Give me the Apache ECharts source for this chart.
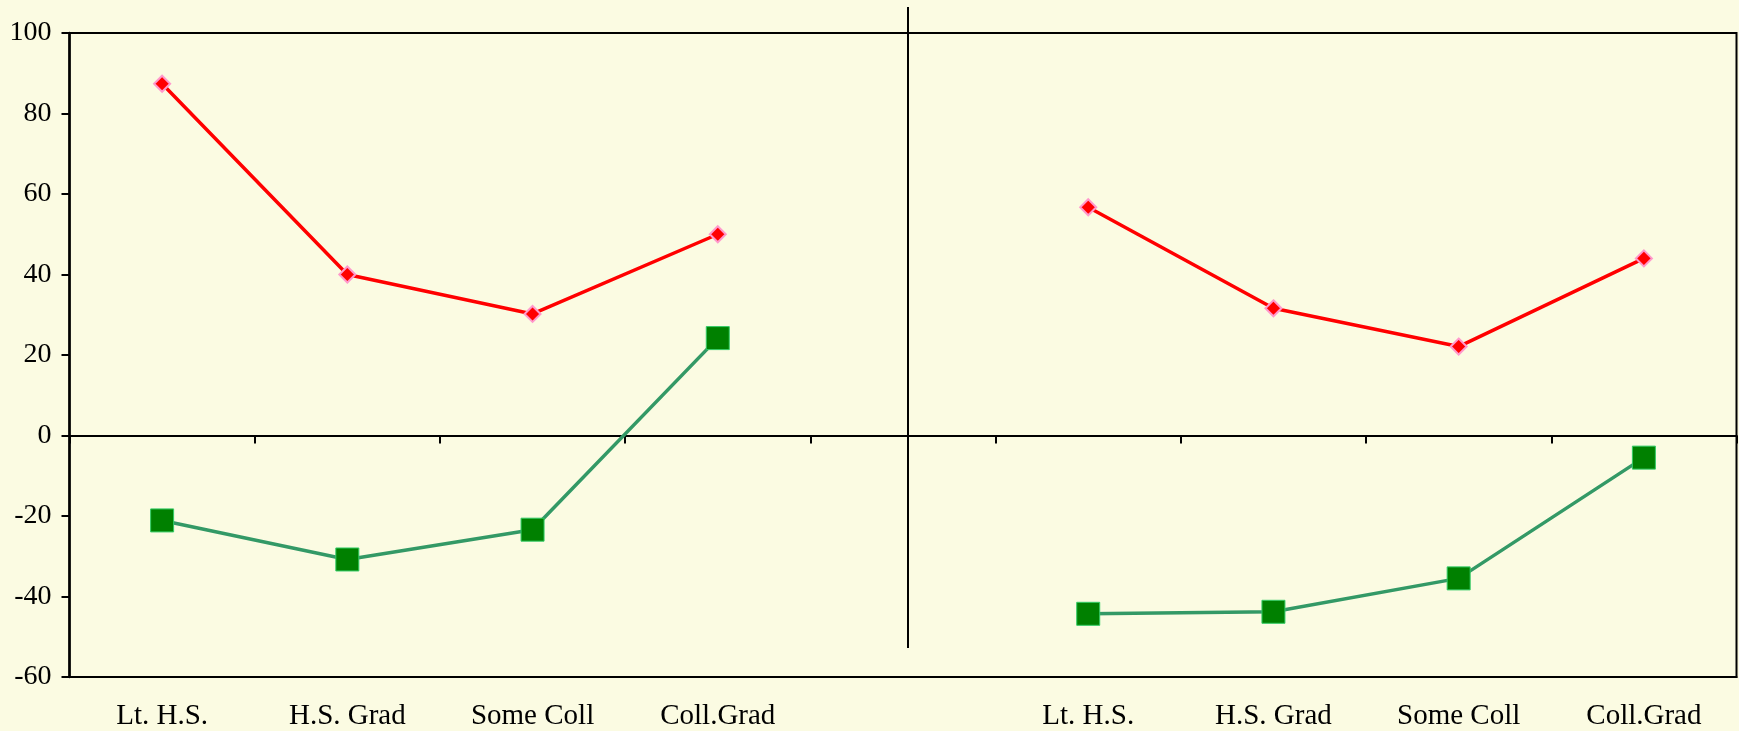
<!DOCTYPE html>
<html>
<head>
<meta charset="utf-8">
<script src="https://cdn.jsdelivr.net/npm/echarts@6/dist/echarts.min.js"></script>
<style>
html,body{margin:0;padding:0;background:#FBFBE2;}
#c{width:1739px;height:731px;}
</style>
</head>
<body>
<div id="c"></div>
<script>
// Data
const groupCategories = ['Lt. H.S.', 'H.S. Grad', 'Some Coll', 'Coll.Grad'];
const leftRed   = [87.4, 40.0, 30.2, 50.0];
const rightRed  = [56.7, 31.6, 22.1, 44.0];
const leftGreen = [-21.1, -30.8, -23.4, 24.2];
const rightGreen= [-44.3, -43.8, -35.5, -5.5];
const yTicks = {min: -60, max: 100, interval: 20};

const categories = groupCategories.concat([''], groupCategories);
const redData = leftRed.concat(['-'], rightRed);
const greenData = leftGreen.concat(['-'], rightGreen);

const FONT = '"Liberation Serif", "Times New Roman", serif';
const chart = echarts.init(document.getElementById('c'), null, {renderer: 'canvas'});
chart.setOption({
  animation: false,
  backgroundColor: '#FBFBE2',
  grid: {left: 69.5, right: 2.5, top: 33, bottom: 53.5, show: true,
         borderColor: '#000', borderWidth: 2, backgroundColor: 'transparent'},
  xAxis: [
    {type: 'category', data: categories, position: 'bottom', boundaryGap: true,
     axisLine: {onZero: false, lineStyle: {color: '#000', width: 2}},
     axisTick: {show: false},
     axisLabel: {color: '#000', fontFamily: FONT, fontSize: 29, margin: 25, interval: 0}},
    {type: 'category', data: categories, position: 'top', boundaryGap: true,
     axisLine: {onZero: true, lineStyle: {color: '#000', width: 2}},
     axisTick: {show: true, inside: true, length: 8, lineStyle: {color: '#000', width: 2}, interval: 0},
     axisLabel: {show: false}}
  ],
  yAxis: {type: 'value', min: yTicks.min, max: yTicks.max, interval: yTicks.interval,
    axisLine: {show: true, onZero: false, lineStyle: {color: '#000', width: 2.5}},
    axisTick: {show: true, length: 8, lineStyle: {color: '#000', width: 2}},
    splitLine: {show: false},
    axisLabel: {color: '#000', fontFamily: FONT, fontSize: 28, margin: 18}},
  graphic: [{type: 'line', z: 100, shape: {x1: 908, y1: 7, x2: 908, y2: 648},
    style: {stroke: '#000', lineWidth: 2}}],
  series: [
    {type: 'line', name: 'red', data: redData, xAxisIndex: 0,
     symbol: 'diamond', symbolSize: 16, connectNulls: false,
     lineStyle: {color: '#FF0000', width: 3.5},
     itemStyle: {color: '#FF0000', borderColor: '#FF99CC', borderWidth: 2}, z: 5},
    {type: 'line', name: 'green', data: greenData, xAxisIndex: 0,
     symbol: 'rect', symbolSize: 23, connectNulls: false,
     lineStyle: {color: '#339966', width: 3.5},
     itemStyle: {color: '#008000', borderColor: '#33CC66', borderWidth: 1}, z: 5}
  ]
});
</script>
</body>
</html>
